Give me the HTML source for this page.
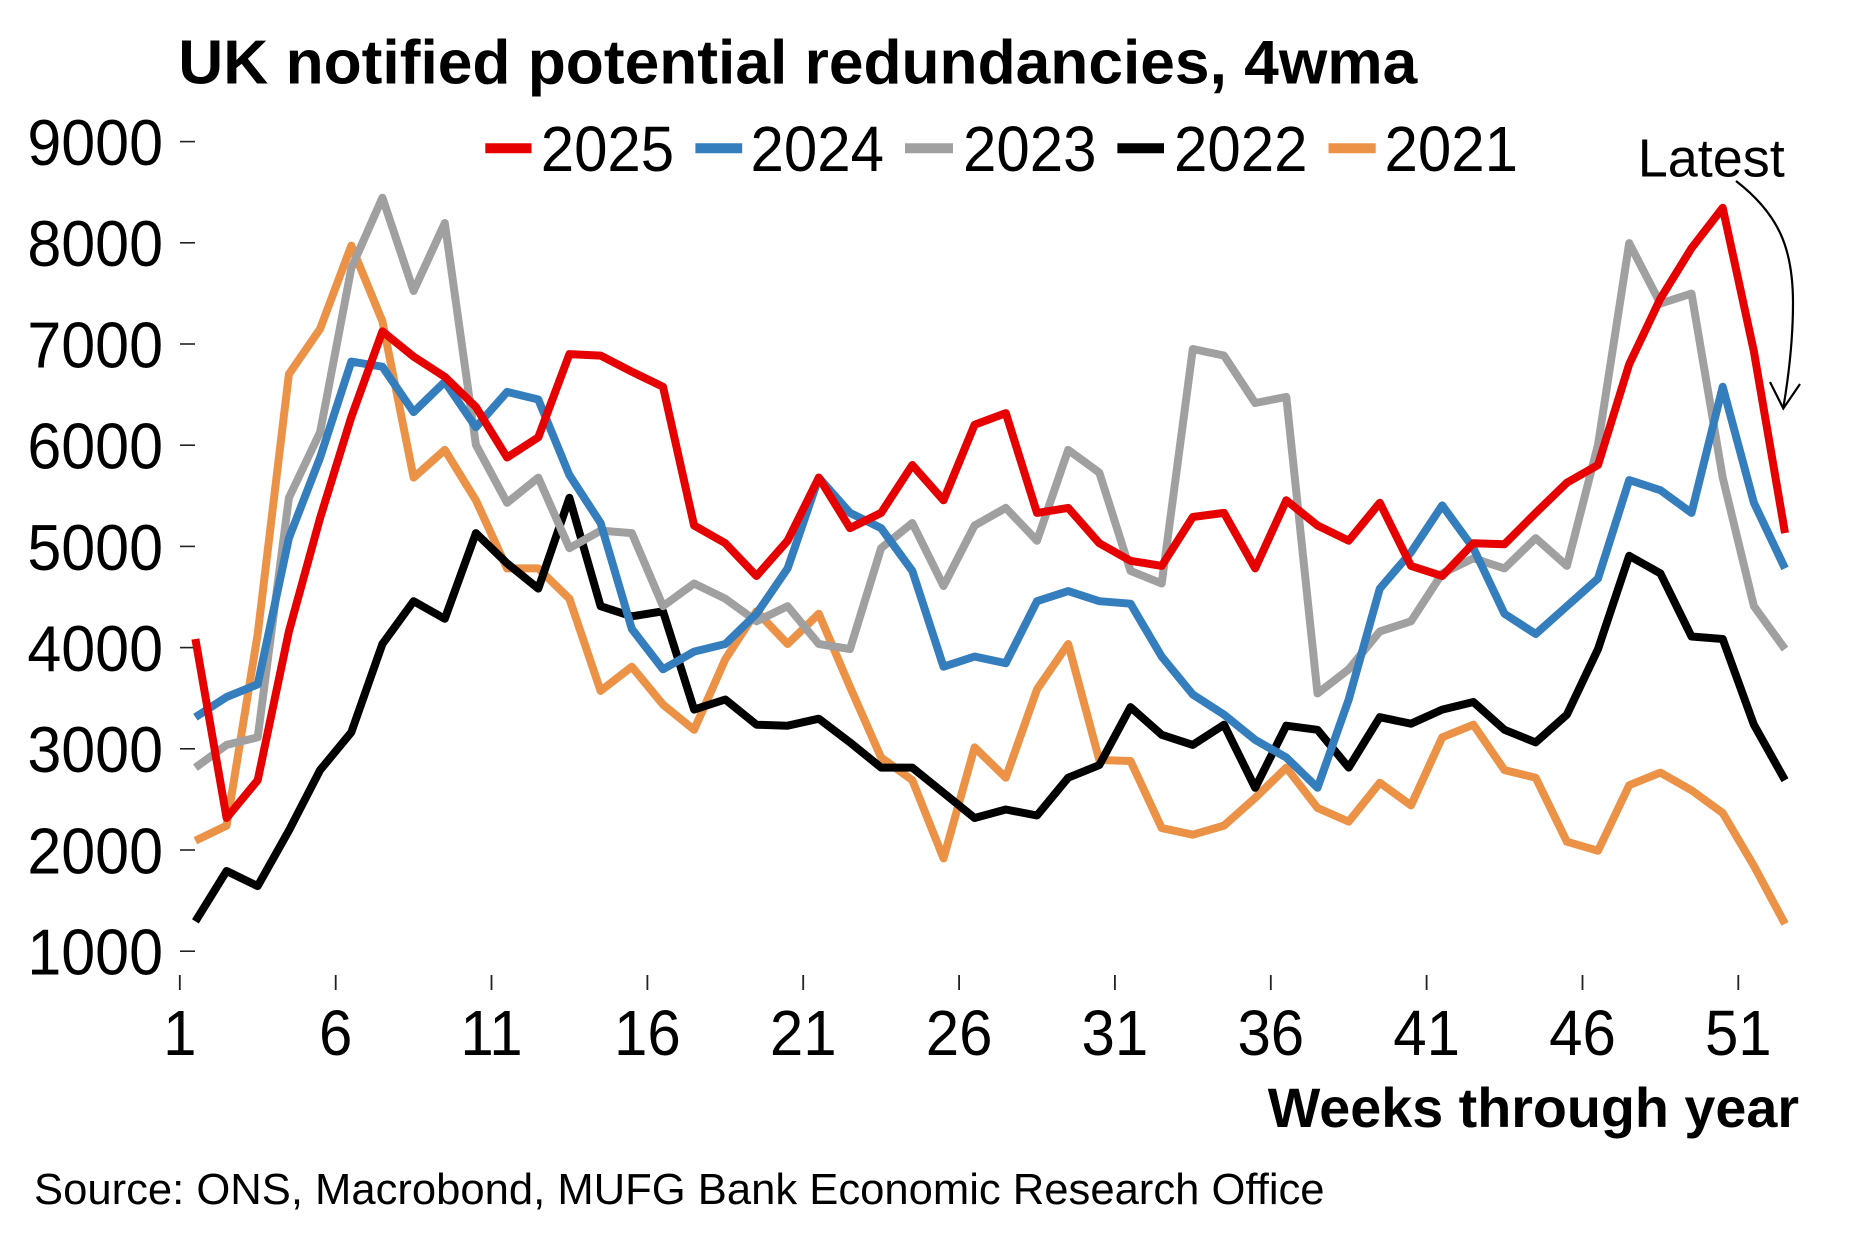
<!DOCTYPE html>
<html>
<head>
<meta charset="utf-8">
<style>
  html, body { margin: 0; padding: 0; background: #ffffff; }
  svg { display: block; }
  text { font-family: "Liberation Sans", Arial, sans-serif; fill: #000; }
</style>
</head>
<body>
<svg width="1876" height="1250" viewBox="0 0 1876 1250" xmlns="http://www.w3.org/2000/svg">
  <rect x="0" y="0" width="1876" height="1250" fill="#ffffff"/>

  <!-- Title -->
  <text x="178.3" y="83.5" font-size="62.5" font-weight="bold" textLength="1239" lengthAdjust="spacingAndGlyphs">UK notified potential redundancies, 4wma</text>

  <!-- Legend -->
  <g stroke-width="10" fill="none">
    <line x1="485.3" y1="148.3" x2="531.5" y2="148.3" stroke="#E60000"/>
    <line x1="695.4" y1="148.3" x2="742.2" y2="148.3" stroke="#347EBE"/>
    <line x1="905" y1="148.3" x2="953" y2="148.3" stroke="#A0A0A0"/>
    <line x1="1117.4" y1="148.3" x2="1164" y2="148.3" stroke="#000000"/>
    <line x1="1328.5" y1="148.3" x2="1375.7" y2="148.3" stroke="#EB9247"/>
  </g>
  <g font-size="60">
    <text transform="translate(540.7,171) scale(1,1.07)">2025</text>
    <text transform="translate(750.5,171) scale(1,1.07)">2024</text>
    <text transform="translate(963,171) scale(1,1.07)">2023</text>
    <text transform="translate(1174,171) scale(1,1.07)">2022</text>
    <text transform="translate(1384.5,171) scale(1,1.07)">2021</text>
  </g>

  <!-- Y axis labels -->
  <g font-size="61" text-anchor="end">
    <text transform="translate(163,165) scale(1,1.07)">9000</text>
    <text transform="translate(163,266.2) scale(1,1.07)">8000</text>
    <text transform="translate(163,367.4) scale(1,1.07)">7000</text>
    <text transform="translate(163,468.6) scale(1,1.07)">6000</text>
    <text transform="translate(163,569.8) scale(1,1.07)">5000</text>
    <text transform="translate(163,671) scale(1,1.07)">4000</text>
    <text transform="translate(163,772.2) scale(1,1.07)">3000</text>
    <text transform="translate(163,873.4) scale(1,1.07)">2000</text>
    <text transform="translate(163,974.6) scale(1,1.07)">1000</text>
  </g>
  <!-- Y ticks -->
  <g stroke="#222" stroke-width="1.6">
    <line x1="180" y1="141.6" x2="195" y2="141.6"/>
    <line x1="180" y1="242.8" x2="195" y2="242.8"/>
    <line x1="180" y1="344" x2="195" y2="344"/>
    <line x1="180" y1="445.2" x2="195" y2="445.2"/>
    <line x1="180" y1="546.4" x2="195" y2="546.4"/>
    <line x1="180" y1="647.6" x2="195" y2="647.6"/>
    <line x1="180" y1="748.8" x2="195" y2="748.8"/>
    <line x1="180" y1="850" x2="195" y2="850"/>
    <line x1="180" y1="951.2" x2="195" y2="951.2"/>
  </g>

  <!-- X ticks -->
  <g stroke="#222" stroke-width="1.8">
    <line x1="179.8" y1="975" x2="179.8" y2="990"/>
    <line x1="335.7" y1="975" x2="335.7" y2="990"/>
    <line x1="491.5" y1="975" x2="491.5" y2="990"/>
    <line x1="647.4" y1="975" x2="647.4" y2="990"/>
    <line x1="803.2" y1="975" x2="803.2" y2="990"/>
    <line x1="959.1" y1="975" x2="959.1" y2="990"/>
    <line x1="1114.9" y1="975" x2="1114.9" y2="990"/>
    <line x1="1270.8" y1="975" x2="1270.8" y2="990"/>
    <line x1="1426.6" y1="975" x2="1426.6" y2="990"/>
    <line x1="1582.5" y1="975" x2="1582.5" y2="990"/>
    <line x1="1738.3" y1="975" x2="1738.3" y2="990"/>
  </g>
  <!-- X labels -->
  <g font-size="60" text-anchor="middle">
    <text transform="translate(179.8,1055) scale(1,1.07)">1</text>
    <text transform="translate(335.7,1055) scale(1,1.07)">6</text>
    <text transform="translate(491.5,1055) scale(1,1.07)">11</text>
    <text transform="translate(647.4,1055) scale(1,1.07)">16</text>
    <text transform="translate(803.2,1055) scale(1,1.07)">21</text>
    <text transform="translate(959.1,1055) scale(1,1.07)">26</text>
    <text transform="translate(1114.9,1055) scale(1,1.07)">31</text>
    <text transform="translate(1270.8,1055) scale(1,1.07)">36</text>
    <text transform="translate(1426.6,1055) scale(1,1.07)">41</text>
    <text transform="translate(1582.5,1055) scale(1,1.07)">46</text>
    <text transform="translate(1738.3,1055) scale(1,1.07)">51</text>
  </g>

  <!-- Series -->
  <g fill="none" stroke-width="8" stroke-linejoin="round" stroke-linecap="butt">
    <!-- 2021 orange -->
    <polyline stroke="#EB9247" points="195.4,840.7 226.6,825.6 257.7,634.0 288.9,374.2 320.1,328.9 351.3,245.6 382.4,321.3 413.6,477.6 444.8,449.9 475.9,500.3 507.1,568.4 538.3,568.4 569.4,598.7 600.6,690.9 631.8,666.7 663.0,704.6 694.1,729.8 725.3,659.2 756.5,611.3 787.6,644.0 818.8,613.8 850.0,686.9 881.1,757.5 912.3,780.2 943.5,858.4 974.6,747.4 1005.8,777.7 1037.0,689.4 1068.2,644.0 1099.3,760.0 1130.5,761.0 1161.7,828.1 1192.8,834.7 1224.0,825.6 1255.2,797.9 1286.3,767.6 1317.5,807.9 1348.7,821.6 1379.8,782.7 1411.0,805.4 1442.2,737.3 1473.4,724.7 1504.5,770.1 1535.7,777.7 1566.9,841.7 1598.0,850.8 1629.2,785.2 1660.4,772.6 1691.5,790.3 1722.7,813.0 1753.9,865.9 1785.0,923.9"/>
    <!-- 2022 black -->
    <polyline stroke="#000000" points="195.4,921.4 226.6,871.0 257.7,886.1 288.9,830.6 320.1,770.1 351.3,732.3 382.4,644.0 413.6,601.2 444.8,618.8 475.9,533.1 507.1,563.4 538.3,588.6 569.4,497.8 600.6,606.2 631.8,616.3 663.0,611.3 694.1,709.6 725.3,699.5 756.5,724.7 787.6,725.7 818.8,718.7 850.0,742.4 881.1,767.6 912.3,767.6 943.5,792.8 974.6,818.0 1005.8,809.5 1037.0,815.5 1068.2,777.7 1099.3,765.1 1130.5,707.1 1161.7,734.8 1192.8,744.9 1224.0,724.7 1255.2,787.8 1286.3,725.7 1317.5,729.8 1348.7,767.6 1379.8,717.2 1411.0,723.7 1442.2,709.6 1473.4,702.0 1504.5,729.8 1535.7,742.4 1566.9,714.6 1598.0,649.1 1629.2,555.8 1660.4,573.4 1691.5,636.5 1722.7,639.0 1753.9,724.7 1785.0,780.2"/>
    <!-- 2023 gray -->
    <polyline stroke="#A0A0A0" points="195.4,767.6 226.6,744.9 257.7,737.3 288.9,497.8 320.1,432.2 351.3,268.3 382.4,197.7 413.6,291.0 444.8,223.0 475.9,444.8 507.1,502.8 538.3,477.6 569.4,548.2 600.6,530.6 631.8,533.1 663.0,606.2 694.1,583.5 725.3,598.7 756.5,621.3 787.6,606.2 818.8,644.0 850.0,649.1 881.1,548.2 912.3,523.0 943.5,586.0 974.6,525.5 1005.8,507.9 1037.0,540.7 1068.2,449.9 1099.3,472.6 1130.5,570.9 1161.7,583.5 1192.8,349.0 1224.0,355.6 1255.2,403.0 1286.3,396.9 1317.5,693.5 1348.7,669.3 1379.8,631.4 1411.0,621.3 1442.2,573.4 1473.4,558.3 1504.5,568.4 1535.7,538.1 1566.9,565.9 1598.0,444.8 1629.2,243.1 1660.4,303.6 1691.5,293.6 1722.7,477.6 1753.9,606.2 1785.0,649.1"/>
    <!-- 2024 blue -->
    <polyline stroke="#347EBE" points="195.4,717.2 226.6,697.0 257.7,684.4 288.9,538.1 320.1,457.5 351.3,361.6 382.4,366.7 413.6,412.1 444.8,381.8 475.9,427.2 507.1,391.9 538.3,399.5 569.4,475.1 600.6,523.0 631.8,628.9 663.0,669.3 694.1,651.6 725.3,644.0 756.5,613.8 787.6,568.4 818.8,477.6 850.0,512.9 881.1,528.1 912.3,570.9 943.5,666.7 974.6,656.6 1005.8,663.2 1037.0,601.2 1068.2,591.1 1099.3,601.2 1130.5,603.7 1161.7,656.6 1192.8,694.5 1224.0,714.6 1255.2,739.9 1286.3,757.5 1317.5,787.8 1348.7,699.5 1379.8,588.6 1411.0,552.3 1442.2,505.4 1473.4,548.2 1504.5,613.8 1535.7,634.0 1566.9,606.2 1598.0,578.5 1629.2,480.1 1660.4,490.2 1691.5,512.9 1722.7,386.8 1753.9,502.8 1785.0,568.4"/>
    <!-- 2025 red -->
    <polyline stroke="#E60000" points="195.4,639.0 226.6,818.0 257.7,780.2 288.9,631.4 320.1,518.0 351.3,417.1 382.4,331.4 413.6,356.6 444.8,376.8 475.9,407.0 507.1,457.5 538.3,437.3 569.4,354.1 600.6,355.6 631.8,371.7 663.0,386.8 694.1,525.5 725.3,543.2 756.5,576.0 787.6,540.7 818.8,477.6 850.0,528.1 881.1,512.9 912.3,465.0 943.5,500.3 974.6,424.7 1005.8,413.1 1037.0,512.9 1068.2,507.9 1099.3,543.2 1130.5,560.8 1161.7,565.9 1192.8,517.0 1224.0,512.9 1255.2,568.4 1286.3,500.3 1317.5,525.5 1348.7,540.7 1379.8,502.8 1411.0,565.9 1442.2,576.0 1473.4,543.2 1504.5,544.2 1535.7,512.9 1566.9,482.7 1598.0,465.0 1629.2,364.2 1660.4,298.6 1691.5,248.2 1722.7,207.8 1753.9,351.5 1785.0,533.1"/>
  </g>

  <!-- Latest annotation -->
  <text x="1637.7" y="176.7" font-size="54">Latest</text>
  <g fill="none" stroke="#000" stroke-width="2.2" stroke-linejoin="miter">
    <path d="M1736,181 C1780,215 1793,250 1793,303 C1793,340 1788,380 1783.3,408"/>
    <polyline points="1770,382 1783.3,408.5 1800,384"/>
  </g>

  <!-- X axis title -->
  <text x="1799" y="1127" font-size="55.7" font-weight="bold" text-anchor="end">Weeks through year</text>

  <!-- Source -->
  <text x="34" y="1204" font-size="43.6">Source: ONS, Macrobond, MUFG Bank Economic Research Office</text>
</svg>
</body>
</html>
